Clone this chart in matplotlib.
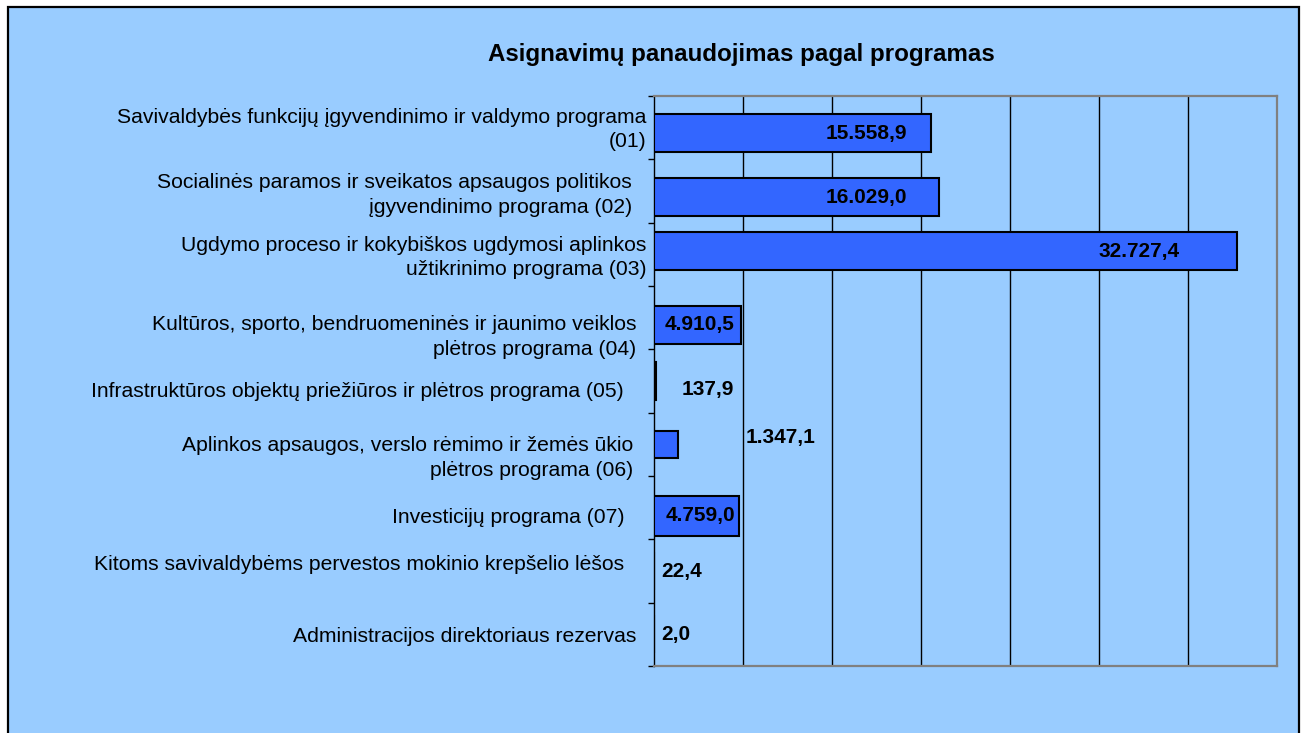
import matplotlib
matplotlib.use("Agg")
import matplotlib.pyplot as plt
import matplotlib.transforms as mtransforms
from matplotlib.patches import Rectangle

# data (thousands, Lithuanian number format)
programs = [
    "Savivaldybės funkcijų įgyvendinimo ir valdymo programa\n(01)",
    "Socialinės paramos ir sveikatos apsaugos politikos\nįgyvendinimo programa (02)",
    "Ugdymo proceso ir kokybiškos ugdymosi aplinkos\nužtikrinimo programa (03)",
    "Kultūros, sporto, bendruomeninės ir jaunimo veiklos\nplėtros programa (04)",
    "Infrastruktūros objektų priežiūros ir plėtros programa (05)",
    "Aplinkos apsaugos, verslo rėmimo ir žemės ūkio\nplėtros programa (06)",
    "Investicijų programa (07)",
    "Kitoms savivaldybėms pervestos mokinio krepšelio lėšos",
    "Administracijos direktoriaus rezervas",
]
amounts = [15558.9, 16029.0, 32727.4, 4910.5, 137.9, 1347.1, 4759.0, 22.4, 2.0]

# layout tweaks (style only)
bar_h = [0.6, 0.6, 0.6, 0.6, 0.6, 0.42, 0.64, 0.6, 0.6]
bar_dy = [0.09, 0.1, -0.05, 0.11, 0.0, 0.0, 0.13, 0.0, 0.0]
lbl_edge_px = [646, 632, 646, 636, 624, 633, 625, 624, 636]
lbl_dy = [0.03, 0.06, 0.05, 0.31, 0.16, 0.22, 0.15, -0.11, 0.03]
val_x = [14213, 14213, 29550, 618, 1573, 5169, 674, 393, 393]
val_ha = ["right", "right", "right", "left", "left", "left", "left", "left", "left"]
val_dy = [0.09, 0.1, -0.05, 0.11, 0.13, -0.1, 0.13, 0.0, 0.0]

BG = "#99CCFF"
BAR = "#3366FF"
W, H = 1305, 733


def lt_fmt(v):
    s = f"{v:,.1f}"
    return s.replace(",", "X").replace(".", ",").replace("X", ".")


plt.rcParams["font.family"] = ["Liberation Sans", "DejaVu Sans"]

fig = plt.figure(figsize=(W / 100, H / 100), dpi=100, facecolor="white")
fig.patches.append(Rectangle((8 / W, -0.05), (1299 - 8) / W, (H - 7) / H + 0.05,
                             transform=fig.transFigure, facecolor=BG,
                             edgecolor="black", linewidth=1.6, zorder=-10))

ax = fig.add_axes([654 / W, (H - 666) / H, (1277 - 654) / W, (666 - 96) / H])
ax.set_facecolor(BG)

ypos = list(range(len(programs)))
ax.barh([y + d for y, d in zip(ypos, bar_dy)], amounts, height=bar_h,
        color=BAR, edgecolor="black", linewidth=1.5, zorder=3)

ax.set_xlim(0, 35000)
ax.set_ylim(len(programs) - 0.5, -0.5)
ax.set_xticks(range(5000, 35000, 5000))
ax.xaxis.grid(True, color="black", linewidth=1)
ax.set_axisbelow(True)
ax.tick_params(axis="x", length=0, labelbottom=False)
ax.set_yticks([i - 0.5 for i in range(len(programs) + 1)])
ax.tick_params(axis="y", direction="out", length=4, width=1, color="black", labelleft=False)

for side in ["top", "right", "bottom"]:
    ax.spines[side].set_color("#808080")
    ax.spines[side].set_linewidth(1.6)
ax.spines["left"].set_color("black")
ax.spines["left"].set_linewidth(1)

trans = mtransforms.blended_transform_factory(ax.transAxes, ax.transData)
for i, name in enumerate(programs):
    ax.text((lbl_edge_px[i] - 654) / (1277 - 654), i + lbl_dy[i], name,
            transform=trans, ha="right", va="center", multialignment="right",
            fontsize=15.2, color="black", linespacing=1.38)

for i, v in enumerate(amounts):
    ax.text(val_x[i], i + val_dy[i], lt_fmt(v), ha=val_ha[i], va="center",
            fontsize=15, fontweight="bold", color="black", zorder=5)

fig.text(741 / W, (H - 55) / H, "Asignavimų panaudojimas pagal programas",
         ha="center", va="center", fontsize=17.4, fontweight="bold")

fig.savefig("out.png", dpi=100, facecolor=fig.get_facecolor())
